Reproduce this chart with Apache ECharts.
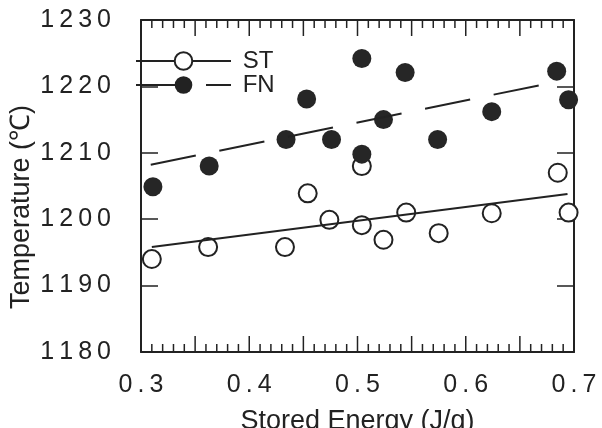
<!DOCTYPE html>
<html>
<head>
<meta charset="utf-8">
<script src="https://cdn.jsdelivr.net/npm/echarts@6/dist/echarts.min.js"></script>
<style>
  html, body { margin: 0; padding: 0; background: #fff; }
</style>
</head>
<body>
<div id="chart" style="width: 602px; height: 428px"></div>
<script>
// stored energy (J/g) and temperature (℃)
const stEnergy = [0.31, 0.362, 0.433, 0.454, 0.474, 0.504, 0.504, 0.524, 0.545, 0.575, 0.624, 0.685, 0.695];
const stTemp = [1194, 1195.8, 1195.8, 1203.9, 1199.9, 1208, 1199.1, 1196.9, 1201, 1197.9, 1200.9, 1207, 1201];
const fnEnergy = [0.311, 0.363, 0.434, 0.453, 0.476, 0.504, 0.504, 0.524, 0.544, 0.574, 0.624, 0.684, 0.695];
const fnTemp = [1204.9, 1208, 1212, 1218.1, 1212, 1224.2, 1209.8, 1215, 1222.1, 1212, 1216.2, 1222.3, 1218];
// ends of the two fitted lines
const stFitEnergy = [0.31, 0.694];
const stFitTemp = [1195.8, 1203.8];
const fnFitEnergy = [0.309, 0.678];
const fnFitTemp = [1208.2, 1220.5];

const xMin = 0.3, xMax = 0.7;
const yMin = 1180, yMax = 1230;

const ink = '#222';
const font = 'Liberation Sans, Arial, sans-serif';

function pairs(xs, ys) {
  return xs.map((x, i) => [x, ys[i]]);
}
// the scan prints digits spread out
function spaced(s) {
  return String(s).split('').join('\u2009');
}

// x ticks every 0.01, taller every 0.05, on both top and bottom
const xTicks = [];
for (let i = 30; i <= 70; i++) xTicks.push(i / 100);

function xAxisAt(pos) {
  const axis = {
    type: 'value',
    position: pos,
    min: xMin,
    max: xMax,
    interval: 0.05,
    axisLine: { show: true, onZero: false, lineStyle: { color: ink, width: 2 } },
    axisTick: { show: false },
    minorTick: { show: false },
    splitLine: { show: false },
    axisLabel: { show: false }
  };
  if (pos === 'bottom') {
    axis.name = 'Stored Energy (J/g)';
    axis.nameLocation = 'middle';
    axis.nameGap = 56;
    axis.nameTextStyle = { fontSize: 27, color: ink, fontFamily: font };
    axis.axisLabel = {
      show: true,
      fontSize: 25,
      color: ink,
      margin: 21,
      fontFamily: font,
      formatter: v => (Math.round(v * 100) % 10 === 0 ? spaced(v.toFixed(1)) : '')
    };
  }
  return axis;
}

function yAxisAt(pos) {
  const axis = {
    type: 'value',
    position: pos,
    min: yMin,
    max: yMax,
    interval: 10,
    axisLine: { show: true, onZero: false, lineStyle: { color: ink, width: 2 } },
    axisTick: { show: true, inside: true, length: 17, lineStyle: { color: ink, width: 1.5 } },
    splitLine: { show: false },
    axisLabel: { show: false }
  };
  if (pos === 'left') {
    axis.axisLabel = {
      show: true,
      fontSize: 25,
      color: ink,
      margin: 30,
      fontFamily: font,
      formatter: v => spaced(v)
    };
  }
  return axis;
}

const chart = echarts.init(document.getElementById('chart'));

const yTitle = {
  type: 'text',
  x: 22,
  y: 207,
  rotation: Math.PI / 2,
  style: {
    text: 'Temperature (℃)',
    font: '27px ' + font,
    fill: ink,
    align: 'center',
    verticalAlign: 'middle'
  }
};

const option = {
  backgroundColor: '#fff',
  animation: false,
  grid: { left: 141, right: 28, top: 20, bottom: 76, outerBoundsMode: 'none' },
  legend: {
    orient: 'vertical',
    left: 135,
    top: 49,
    padding: 0,
    itemWidth: 95,
    itemHeight: 22,
    itemGap: 0,
    data: ['ST', 'FN'],
    formatter: ' {name}',
    textStyle: { fontSize: 24, color: ink, fontFamily: font }
  },
  graphic: [yTitle],
  xAxis: [xAxisAt('bottom'), xAxisAt('top')],
  yAxis: [yAxisAt('left'), yAxisAt('right')],
  series: [
    {
      name: 'ST',
      type: 'line',
      data: pairs(stFitEnergy, stFitTemp),
      symbol: 'emptyCircle',
      showSymbol: false,
      color: ink,
      lineStyle: { color: ink, width: 2 }
    },
    {
      name: 'FN',
      type: 'line',
      data: pairs(fnFitEnergy, fnFitTemp),
      symbol: 'circle',
      showSymbol: false,
      color: ink,
      lineStyle: { color: ink, width: 2, type: [46, 24] }
    },
    {
      name: 'ST points',
      type: 'scatter',
      data: pairs(stEnergy, stTemp),
      symbol: 'circle',
      symbolSize: 18,
      itemStyle: { color: '#fff', borderColor: ink, borderWidth: 2, opacity: 1 }
    },
    {
      name: 'FN points',
      type: 'scatter',
      data: pairs(fnEnergy, fnTemp),
      symbol: 'circle',
      symbolSize: 19,
      itemStyle: { color: '#262626', opacity: 1 }
    }
  ]
};

chart.setOption(option);

// place the x ticks through the chart's own scale
const tickLines = [];
xTicks.forEach(v => {
  const len = Math.round(v * 100) % 5 === 0 ? 16 : 8;
  const b = chart.convertToPixel({ gridIndex: 0 }, [v, yMin]);
  const t = chart.convertToPixel({ gridIndex: 0 }, [v, yMax]);
  if (!b || !t) return;
  tickLines.push({
    type: 'line', silent: true, z: 100,
    shape: { x1: b[0], y1: b[1], x2: b[0], y2: b[1] - len },
    style: { stroke: ink, lineWidth: 1.5 }
  });
  tickLines.push({
    type: 'line', silent: true, z: 100,
    shape: { x1: t[0], y1: t[1], x2: t[0], y2: t[1] + len },
    style: { stroke: ink, lineWidth: 1.5 }
  });
});
chart.setOption({ graphic: [yTitle].concat(tickLines) });
</script>
</body>
</html>
